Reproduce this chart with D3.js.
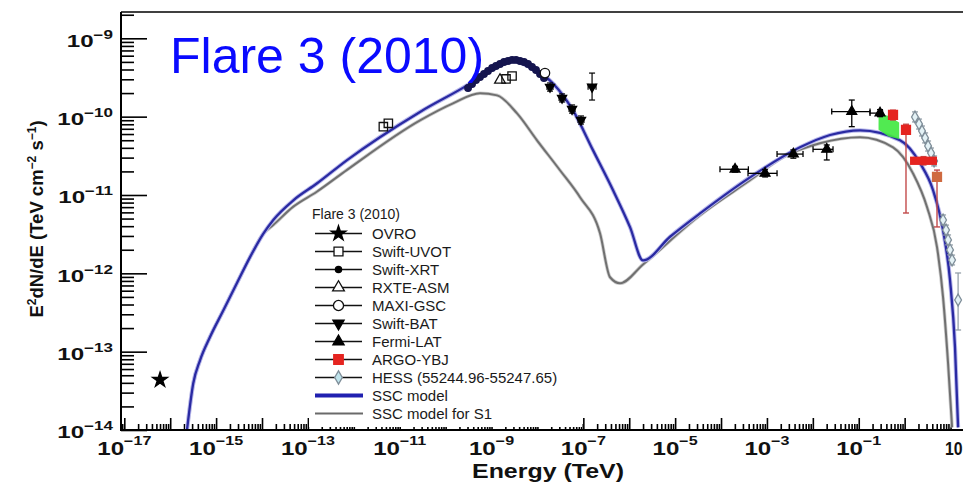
<!DOCTYPE html>
<html><head><meta charset="utf-8">
<script src="https://cdn.jsdelivr.net/npm/d3@7"></script>
<style>body{margin:0;background:#fff}svg{display:block;font-family:"Liberation Sans",Arial,Helvetica,sans-serif}</style>
</head><body>
<svg id="c" width="963" height="483"></svg>
<script>
// ---------------- data ----------------
const titleText = "Flare 3 (2010)";
const xTitle = "Energy (TeV)";
const xLabelExp = [-17,-15,-13,-11,-9,-7,-5,-3,-1,1];
const yLabelExp = [-14,-13,-12,-11,-10,-9];

// SSC model (blue)
const blueE = [2.32e-16,3.18e-16,4.46e-16,7.36e-16,1.44e-15,2.81e-15,5.48e-15,1.07e-14,1.76e-14,4.81e-14,1.56e-13,7.0e-13,2.77e-11,3.40e-10,1.0e-9,2.94e-9,6.90e-9,2.19e-8,5.96e-8,1.63e-7,4.44e-7,1.04e-6,2.0e-6,7.74e-6,3.48e-5,4.28e-4,5.25e-3,2.37e-2,0.1067,0.794,2.17,4.16,6.87,9.75,12.5,14.6];
const blueF = [1.0e-14,3.95e-14,7.76e-14,1.54e-13,3.37e-13,7.40e-13,1.61e-12,3.21e-12,4.80e-12,8.55e-12,1.40e-11,2.77e-11,1.15e-10,2.64e-10,3.98e-10,5.13e-10,4.29e-10,2.65e-10,1.20e-10,3.71e-11,1.15e-11,3.89e-12,1.46e-12,2.93e-12,5.82e-12,1.68e-11,4.06e-11,5.83e-11,6.70e-11,4.99e-11,2.54e-11,1.15e-11,3.54e-12,8.15e-13,1.14e-13,1.08e-14];
// SSC model for S1 (grey)
const greyE = [2.32e-16,3.18e-16,4.46e-16,7.36e-16,1.44e-15,2.81e-15,5.48e-15,1.07e-14,1.76e-14,4.81e-14,1.56e-13,7.0e-13,2.77e-11,1.45e-10,5.61e-10,1.32e-9,3.60e-9,9.79e-9,3.10e-8,8.47e-8,2.31e-7,3.82e-7,6.31e-7,2.0e-6,3.48e-5,4.28e-4,2.24e-3,1.43e-2,0.1067,0.558,1.52,3.08,5.08,6.87,8.83,10.8];
const greyF = [1.0e-14,3.95e-14,7.76e-14,1.54e-13,3.37e-13,7.40e-13,1.61e-12,3.21e-12,4.14e-12,7.10e-12,1.10e-11,2.08e-11,8.97e-11,1.48e-10,1.99e-10,1.87e-10,1.10e-10,4.99e-11,2.07e-11,9.35e-12,3.24e-12,8.91e-13,7.46e-13,1.30e-12,5.51e-12,1.54e-11,3.03e-11,4.57e-11,5.45e-11,4.06e-11,1.89e-11,6.97e-12,2.15e-12,4.94e-13,7.11e-14,1.08e-14];

const ovroE = [6.0e-17], ovroF = [4.36e-14];
const uvotE = [4.40e-12,5.65e-12,2.07e-9,2.80e-9], uvotF = [7.45e-11,8.22e-11,3.03e-10,3.30e-10];
const xrtE = [3.08e-10,3.76e-10,4.59e-10,5.61e-10,6.85e-10,8.38e-10,1.03e-9,1.25e-9,1.53e-9,1.87e-9,2.29e-9,2.80e-9,3.42e-9,4.18e-9,5.10e-9,6.24e-9,7.62e-9,9.31e-9,1.14e-8,1.39e-8];
const xrtF = [2.32e-10,2.61e-10,2.94e-10,3.21e-10,3.51e-10,3.83e-10,4.18e-10,4.44e-10,4.70e-10,4.99e-10,5.14e-10,5.30e-10,5.30e-10,5.14e-10,4.99e-10,4.70e-10,4.31e-10,3.94e-10,3.51e-10,3.11e-10];
const rxteE = [1.53e-9], rxteF = [2.94e-10];
const maxiE = [1.46e-8], maxiF = [3.60e-10];
const batE = [1.88e-8,3.44e-8,5.68e-8,8.91e-8,1.55e-7];
const batF = [2.39e-10,1.73e-10,1.25e-10,9.06e-11,2.40e-10];
const batElo = [1.62e-8,2.97e-8,4.90e-8,7.68e-8,1.27e-7];
const batEhi = [2.18e-8,3.99e-8,6.59e-8,1.03e-7,1.89e-7];
const batFlo = [2.12e-10,1.54e-10,1.11e-10,8.05e-11,1.63e-10];
const batFhi = [2.69e-10,1.95e-10,1.41e-10,1.02e-10,3.60e-10];
const fermiE = [2.02e-4,9.10e-4,3.76e-3,2.01e-2,7.05e-2,0.291];
const fermiF = [2.13e-11,1.89e-11,3.33e-11,3.83e-11,1.16e-10,1.11e-10];
const fermiElo = [9.48e-5,3.87e-4,1.66e-3,1.01e-2,2.58e-2,0.176];
const fermiEhi = [3.94e-4,1.66e-3,6.11e-3,2.75e-2,0.176,0.33];
const fermiFlo = [1.96e-11,1.70e-11,2.95e-11,2.80e-11,7.45e-11,1.0e-10];
const fermiFhi = [2.32e-11,2.10e-11,3.76e-11,4.35e-11,1.63e-10,1.23e-10];
const argoE = [0.558,1.07,2.58,5.07];
const argoF = [1.05e-10,6.76e-11,2.72e-11,1.70e-11];
const argoElo = [0.50,0.98,1.31,4.6];
const argoEhi = [0.62,1.17,5.07,5.6];
const argoFlo = [9.06e-11,5.89e-12,2.42e-11,3.91e-12];
const argoFhi = [1.21e-10,8.0e-11,3.09e-11,2.08e-11];
const hessE = [1.68,2.06,2.39,2.79,3.24,3.76,4.38,6.87,7.98,8.83,9.75,10.8,14.6];
const hessF = [9.91e-11,8.05e-11,6.56e-11,5.35e-11,4.22e-11,3.44e-11,2.72e-11,4.80e-12,3.57e-12,2.67e-12,1.99e-12,1.48e-12,4.57e-13];
const hessFlo = [8.56e-11,6.95e-11,5.67e-11,4.62e-11,3.64e-11,2.97e-11,2.35e-11,4.15e-12,3.08e-12,2.31e-12,1.72e-12,1.28e-12,1.89e-13];
const hessFhi = [1.15e-10,9.32e-11,7.60e-11,6.20e-11,4.89e-11,3.98e-11,3.15e-11,5.56e-12,4.13e-12,3.09e-12,2.30e-12,1.71e-12,1.01e-12];
const greenE = [0.27,0.45,0.76];
const greenHi = [1.10e-10,1.02e-10,8.4e-11];
const greenLo = [6.8e-11,5.6e-11,5.2e-11];

const legendTitle = "Flare 3 (2010)";
const legendLabels = ["OVRO","Swift-UVOT","Swift-XRT","RXTE-ASM","MAXI-GSC","Swift-BAT","Fermi-LAT","ARGO-YBJ","HESS (55244.96-55247.65)","SSC model","SSC model for S1"];

// ---------------- drawing ----------------
const svg = d3.select("#c");
const xs = d3.scaleLog().domain([Math.pow(10,-17.072), Math.pow(10,1.5)]).range([121, 973.5]);
const ys = d3.scaleLog().domain([1e-14, Math.pow(10,-8.664)]).range([430, 12]);

svg.append("defs").append("clipPath").attr("id","pc")
  .append("rect").attr("x",121).attr("y",12).attr("width",860).attr("height",418);

// ticks
const xMaj = [], xMin = [];
for (let k=-18;k<=1;k++){ const v=Math.pow(10,k); if(v>=xs.domain()[0]) xMaj.push(v);
  for(let m=2;m<=9;m++){const w=m*Math.pow(10,k); if(w>=xs.domain()[0] && w<=xs.domain()[1]) xMin.push(w);} }
const yMaj = [], yMin = [];
for (let k=-14;k<=-9;k++){ yMaj.push(Math.pow(10,k));
  for(let m=2;m<=9;m++){const w=m*Math.pow(10,k); if(w<=ys.domain()[1]) yMin.push(w);} }

function tickAxis(axis, tr){
  svg.append("g").attr("transform",tr).call(axis)
    .call(g=>g.select(".domain").remove())
    .call(g=>g.selectAll("line").attr("stroke","#000").attr("stroke-width",1.6));
}
tickAxis(d3.axisBottom(xs).tickValues(xMin).tickSize(-6).tickFormat(""), "translate(0,430)");
tickAxis(d3.axisBottom(xs).tickValues(xMaj).tickSize(-12).tickFormat(""), "translate(0,430)");
tickAxis(d3.axisLeft(ys).tickValues(yMin).tickSize(-13).tickFormat(""), "translate(121,0)");
tickAxis(d3.axisLeft(ys).tickValues(yMaj).tickSize(-26).tickFormat(""), "translate(121,0)");

// curves
const plot = svg.append("g").attr("clip-path","url(#pc)");
const line = d3.line().x(d=>xs(d[0])).y(d=>ys(d[1])).curve(d3.curveMonotoneX);
const greyPts = greyE.map((e,i)=>[e,greyF[i]]);
const bluePts = blueE.map((e,i)=>[e,blueF[i]]);
plot.append("path").attr("d",line(greyPts)).attr("fill","none").attr("stroke","#cfcfcf").attr("stroke-width",3.6);
plot.append("path").attr("d",line(greyPts)).attr("fill","none").attr("stroke","#707070").attr("stroke-width",2);
plot.append("path").attr("d",line(bluePts)).attr("fill","none").attr("stroke","#b9b9ec").attr("stroke-width",4.2);
plot.append("path").attr("d",line(bluePts)).attr("fill","none").attr("stroke","#2a2aa2").attr("stroke-width",2.3);

// green band
const area = d3.area().x((d,i)=>xs(greenE[i])).y0((d,i)=>ys(greenLo[i])).y1((d,i)=>ys(greenHi[i]));
plot.append("path").attr("d",area(greenE)).attr("fill","#3ee83e").attr("opacity",0.9);

function hbar(g,e0,e1,f,col,w){const y=ys(f),x0=xs(e0),x1=xs(e1);
  g.append("line").attr("x1",x0).attr("x2",x1).attr("y1",y).attr("y2",y).attr("stroke",col).attr("stroke-width",w);
  [x0,x1].forEach(xx=>g.append("line").attr("x1",xx).attr("x2",xx).attr("y1",y-3).attr("y2",y+3).attr("stroke",col).attr("stroke-width",w));}
function vbar(g,e,f0,f1,col,w){const x=xs(e),y0=ys(f0),y1=ys(f1);
  g.append("line").attr("x1",x).attr("x2",x).attr("y1",y0).attr("y2",y1).attr("stroke",col).attr("stroke-width",w);
  [y0,y1].forEach(yy=>g.append("line").attr("x1",x-3).attr("x2",x+3).attr("y1",yy).attr("y2",yy).attr("stroke",col).attr("stroke-width",w));}
const sym = (t,s)=>d3.symbol().type(t).size(s)();
function marker(g,e,f,t,s,fill,stroke,rot){
  g.append("path").attr("d",sym(t,s)).attr("transform",`translate(${xs(e)},${ys(f)})`+(rot?" rotate(180)":""))
   .attr("fill",fill).attr("stroke",stroke).attr("stroke-width",1.3);}

// HESS
hessE.forEach((e,i)=>{ vbar(plot,e,hessFlo[i],hessFhi[i],"#8d99a3",1.2); });
hessE.forEach((e,i)=>marker(plot,e,hessF[i],d3.symbolDiamond,40,"#e4f2f6","#7f8e99"));
// ARGO-YBJ
argoE.forEach((e,i)=>{ vbar(plot,e,argoFlo[i],argoFhi[i],"#c24a4a",1.4); });
argoE.forEach((e,i)=>{
  const col = i===3 ? "#cf6a40" : "#e52420";
  if (i===2){ plot.append("rect").attr("x",xs(argoElo[i])).attr("y",ys(argoFhi[i]))
      .attr("width",xs(argoEhi[i])-xs(argoElo[i])).attr("height",ys(argoFlo[i])-ys(argoFhi[i])).attr("fill",col); }
  else marker(plot,e,argoF[i],d3.symbolSquare,80,col,col);
});
// Fermi-LAT
fermiE.forEach((e,i)=>{ hbar(plot,fermiElo[i],fermiEhi[i],fermiF[i],"#000",1.3); vbar(plot,e,fermiFlo[i],fermiFhi[i],"#000",1.3);
  marker(plot,e,fermiF[i],d3.symbolTriangle,42,"#000","#000"); });
// Swift-BAT
batE.forEach((e,i)=>{ hbar(plot,batElo[i],batEhi[i],batF[i],"#000",1.2); vbar(plot,e,batFlo[i],batFhi[i],"#000",1.2);
  marker(plot,e,batF[i],d3.symbolTriangle,36,"#000","#000",true); });
// Swift-XRT
xrtE.forEach((e,i)=>marker(plot,e,xrtF[i],d3.symbolCircle,34,"#15154f","#15154f"));
// UVOT, RXTE, MAXI, OVRO
uvotE.forEach((e,i)=>marker(plot,e,uvotF[i],d3.symbolSquare,70,"none","#111"));
rxteE.forEach((e,i)=>marker(plot,e,rxteF[i],d3.symbolTriangle,50,"none","#111"));
maxiE.forEach((e,i)=>marker(plot,e,maxiF[i],d3.symbolCircle,70,"#fff","#111"));
ovroE.forEach((e,i)=>marker(plot,e,ovroF[i],d3.symbolStar,70,"#000","#000"));

// legend
const lg = svg.append("g");
lg.append("rect").attr("x",309).attr("y",203).attr("width",273).attr("height",224).attr("fill","#fff");
lg.append("text").attr("x",312).attr("y",219).attr("font-size",14).attr("fill","#1a1a1a").text(legendTitle);
const lsym = [[d3.symbolStar,70,"#000","#000"],[d3.symbolSquare,80,"#fff","#111"],[d3.symbolCircle,30,"#000","#000"],
  [d3.symbolTriangle,60,"#fff","#111"],[d3.symbolCircle,80,"#fff","#111"],[d3.symbolTriangle,55,"#000","#000",true],
  [d3.symbolTriangle,55,"#000","#000"],[d3.symbolSquare,90,"#e52420","#e52420"],[d3.symbolDiamond,50,"#bfe4ec","#7f8e99"]];
legendLabels.forEach((lab,i)=>{
  const y = 233.5 + i*18;
  if (i<9){
    lg.append("line").attr("x1",315).attr("x2",362).attr("y1",y).attr("y2",y).attr("stroke","#111").attr("stroke-width",1.3);
    const s = lsym[i];
    lg.append("path").attr("d",sym(s[0],s[1])).attr("transform",`translate(338.5,${y})`+(s[4]?" rotate(180)":""))
      .attr("fill",s[2]).attr("stroke",s[3]).attr("stroke-width",1.3);
  } else if (i===9){
    lg.append("line").attr("x1",315).attr("x2",363).attr("y1",y).attr("y2",y).attr("stroke","#2020b0").attr("stroke-width",4);
  } else {
    lg.append("line").attr("x1",315).attr("x2",363).attr("y1",y).attr("y2",y).attr("stroke","#6a6a6a").attr("stroke-width",2);
  }
  lg.append("text").attr("x",372).attr("y",y+5).attr("font-size",15).attr("fill","#1a1a1a").text(lab);
});

// axis lines and frame
svg.append("line").attr("x1",121).attr("x2",963).attr("y1",430).attr("y2",430).attr("stroke","#000").attr("stroke-width",2);
svg.append("line").attr("x1",121).attr("x2",121).attr("y1",12).attr("y2",431).attr("stroke","#000").attr("stroke-width",2);
svg.append("line").attr("x1",121).attr("x2",963).attr("y1",12).attr("y2",12).attr("stroke","#000").attr("stroke-width",1.6);

// tick labels
yLabelExp.forEach(k=>{
  const g = svg.append("g").attr("transform",`translate(113,${ys(Math.pow(10,k))+8.4}) scale(1.42,1)`);
  const t = g.append("text").attr("text-anchor","end").attr("font-weight","bold").attr("font-size",17).attr("fill","#111");
  t.append("tspan").text("10");
  t.append("tspan").attr("dy",-8).attr("font-size",12).text(String(k).replace("-","\u2212"));
});
xLabelExp.forEach(k=>{
  const last = k===1;
  const g = svg.append("g").attr("transform", last ? `translate(945,455) scale(0.88,1)` : `translate(${xs(Math.pow(10,k))},455) scale(1.34,1)`);
  const t = g.append("text").attr("text-anchor", last?"start":"middle").attr("font-weight","bold").attr("font-size",18).attr("fill","#111");
  t.append("tspan").text("10");
  if(!last) t.append("tspan").attr("dy",-10).attr("font-size",12).text(String(k).replace("-","\u2212"));
});

// axis titles
svg.append("text").attr("x",548).attr("y",478).attr("text-anchor","middle").attr("font-weight","bold")
  .attr("font-size",21).attr("textLength",152).attr("lengthAdjust","spacingAndGlyphs").attr("fill","#111").text(xTitle);
const yt = svg.append("text").attr("transform","translate(43,219) rotate(-90)").attr("text-anchor","middle")
  .attr("font-weight","bold").attr("font-size",18.5).attr("fill","#111");
yt.append("tspan").text("E");
yt.append("tspan").attr("dy",-7).attr("font-size",12).text("2");
yt.append("tspan").attr("dy",7).text("dN/dE (TeV cm");
yt.append("tspan").attr("dy",-7).attr("font-size",12).text("\u22122");
yt.append("tspan").attr("dy",7).text(" s");
yt.append("tspan").attr("dy",-7).attr("font-size",12).text("\u22121");
yt.append("tspan").attr("dy",7).text(")");

// title
svg.append("text").attr("x",170).attr("y",73).attr("font-size",50).attr("fill","#0a0aff").text(titleText);
</script>
</body></html>
